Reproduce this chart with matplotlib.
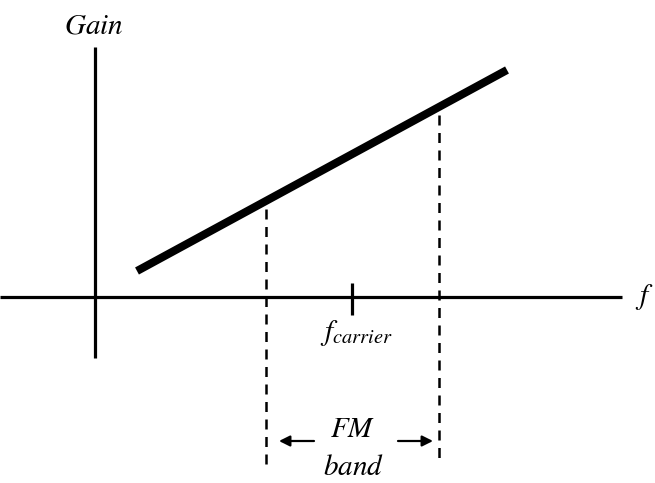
import matplotlib
matplotlib.use("Agg")
from matplotlib import pyplot as plt

plt.rcParams["mathtext.fontset"] = "stix"

# diagram units: origin where the two axes cross
freq_axis = [-95, 527]        # horizontal axis extent
gain_axis = [-61, 250]        # vertical axis extent
gain_x = [42, 412]            # gain line, start and end frequency
gain_y = [26, 227]
band_edges = [171, 344]       # FM band edges
band_bottom = -167
carrier = 257
carrier_tick = [-18, 14]

def gain_at(x):
    k = (gain_y[1] - gain_y[0]) / (gain_x[1] - gain_x[0])
    return gain_y[0] + k * (x - gain_x[0])

fig = plt.figure(figsize=(6.55, 4.83), dpi=100)
ax = fig.add_axes([0, 0, 1, 1])
ax.set_xlim(-95, 560)
ax.set_ylim(-186, 297)
ax.axis("off")

ax.plot(freq_axis, [0, 0], color="black", linewidth=2.3, solid_capstyle="butt")
ax.plot([0, 0], gain_axis, color="black", linewidth=2.3, solid_capstyle="butt")
ax.plot(gain_x, gain_y, color="black", linewidth=5.8, solid_capstyle="butt")
ax.plot([carrier, carrier], carrier_tick, color="black", linewidth=2.3,
        solid_capstyle="butt")

for xb in band_edges:
    ax.plot([xb, xb], [gain_at(xb) - 8, band_bottom], color="black", linewidth=1.8,
            linestyle=(0, (4, 3)))

ax.annotate("", xy=(band_edges[0] + 13, -144), xytext=(band_edges[0] + 48, -144),
            arrowprops=dict(arrowstyle="-|>", color="black", lw=1.6, mutation_scale=16,
                            shrinkA=0, shrinkB=0))
ax.annotate("", xy=(band_edges[1] - 6, -144), xytext=(band_edges[1] - 41, -144),
            arrowprops=dict(arrowstyle="-|>", color="black", lw=1.6, mutation_scale=16,
                            shrinkA=0, shrinkB=0))

ax.text(-1, 264, "$Gain$", fontsize=21, ha="center", va="baseline")
ax.text(549, 0, "$f$", fontsize=21, ha="center", va="center")
ax.text(261, -36, "$f_{carrier}$", fontsize=21, ha="center", va="center")
ax.text(258, -140, "$FM$", fontsize=21, ha="center", va="baseline")
ax.text(259, -178, "$band$", fontsize=21, ha="center", va="baseline")

fig.savefig("out.png", dpi=100)
